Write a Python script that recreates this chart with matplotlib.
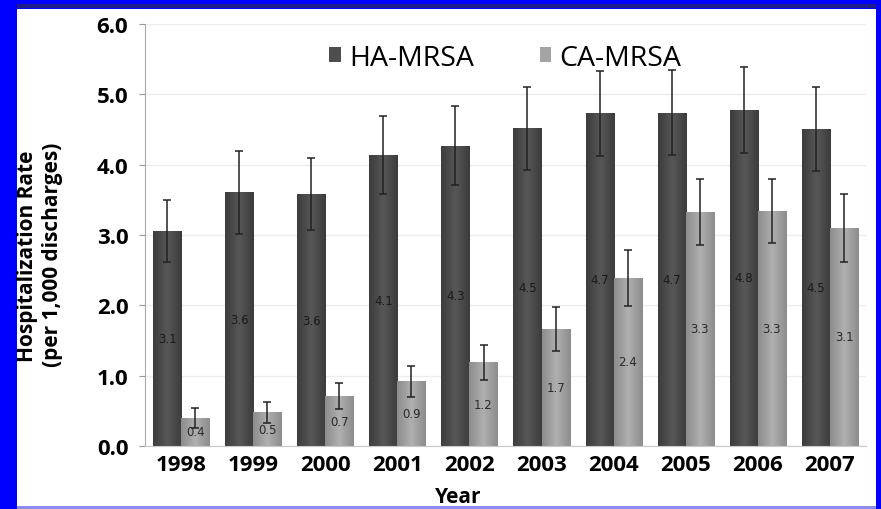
import numpy as np
import matplotlib.pyplot as plt
from matplotlib.patches import Rectangle, Patch
from matplotlib.colors import LinearSegmentedColormap

# hospitalization rates per 1,000 discharges
years = ['1998', '1999', '2000', '2001', '2002', '2003', '2004', '2005', '2006', '2007']
ha_rate = [3.06, 3.61, 3.58, 4.14, 4.27, 4.52, 4.73, 4.74, 4.78, 4.51]
ha_err = [0.44, 0.59, 0.51, 0.55, 0.56, 0.59, 0.60, 0.60, 0.61, 0.60]
ca_rate = [0.40, 0.48, 0.71, 0.92, 1.19, 1.66, 2.39, 3.33, 3.34, 3.10]
ca_err = [0.14, 0.15, 0.18, 0.22, 0.25, 0.31, 0.40, 0.47, 0.46, 0.48]
yticks = [0.0, 1.0, 2.0, 3.0, 4.0, 5.0, 6.0]

W, H = 881, 510
fig = plt.figure(figsize=(W / 100, H / 100), dpi=100)
fig.patch.set_facecolor('#0000ff')
# white page inside the blue frame
fig.add_artist(Rectangle((17 / W, 3 / H), (876 - 17) / W, (500 - 3) / H,
                         transform=fig.transFigure, facecolor='white', edgecolor='none', zorder=0))
fig.add_artist(Rectangle((17 / W, 501 / H), (876 - 17) / W, 4 / H,
                         transform=fig.transFigure, facecolor='#1c1c8a', edgecolor='none', zorder=0))
fig.add_artist(Rectangle((17 / W, 0), (876 - 17) / W, 3 / H,
                         transform=fig.transFigure, facecolor='#8c8cf0', edgecolor='none', zorder=0))

ax = fig.add_axes([145 / W, (H - 447) / H, (866 - 145) / W, (447 - 25) / H])
ax.set_facecolor('none')

x = np.arange(len(years))
bw = 0.39
ha_bars = ax.bar(x - bw / 2, ha_rate, bw, color='#4e4e4e', zorder=2)
ca_bars = ax.bar(x + bw / 2, ca_rate, bw, color='#a4a4a4', zorder=2)

# cylinder-like shading across each bar
def shade(bars, dark, light):
    cmap = LinearSegmentedColormap.from_list('s', [dark, light, dark])
    prof = np.linspace(0, 1, 64)[None, :]
    for b in bars:
        bx, by = b.get_x(), b.get_y()
        im = ax.imshow(prof, extent=[bx, bx + b.get_width(), by, by + b.get_height()],
                       cmap=cmap, aspect='auto', zorder=2.1, interpolation='bicubic')
        im.set_clip_path(b)

shade(ha_bars, '#3c3c3c', '#575757')
shade(ca_bars, '#8c8c8c', '#b0b0b0')

ax.errorbar(x - bw / 2, ha_rate, yerr=ha_err, fmt='none', ecolor='#222222',
            elinewidth=1.1, capsize=3, capthick=1.1, zorder=3)
ax.errorbar(x + bw / 2, ca_rate, yerr=ca_err, fmt='none', ecolor='#222222',
            elinewidth=1.1, capsize=3, capthick=1.1, zorder=3)

# value labels in the middle of each bar
for xi, v in zip(x, ha_rate):
    ax.text(xi - bw / 2, v / 2, f'{v:.1f}', ha='center', va='center',
            fontsize=8.5, color='#1a1a1a', zorder=4)
for xi, v in zip(x, ca_rate):
    ax.text(xi + bw / 2, v / 2, f'{v:.1f}', ha='center', va='center',
            fontsize=8.5, color='#2a2a2a', zorder=4)

ax.set_xlim(-0.5, len(years) - 0.5)
ax.set_ylim(0, 6.0)
ax.set_yticks(yticks)
ax.set_yticklabels([f'{t:.1f}' for t in yticks], fontsize=16, fontweight='bold',
                   family='Open Sans')
ax.set_xticks(x)
ax.set_xticklabels(years, fontsize=16, fontweight='bold', family='Open Sans')
ax.tick_params(axis='x', length=0, pad=6)
ax.tick_params(axis='y', length=4, color='#999999', pad=8)
ax.yaxis.grid(True, color='#ececec', linewidth=1, zorder=0)
ax.set_axisbelow(True)
for s in ['top', 'right']:
    ax.spines[s].set_visible(False)
ax.spines['left'].set_color('#aaaaaa')
ax.spines['bottom'].set_color('#c8c8c8')

fig.text(28 / W, 1 - 256 / H, 'Hospitalization Rate', rotation=90, ha='center', va='center',
         fontsize=15, fontweight='bold', family='Open Sans')
fig.text(53 / W, 1 - 255 / H, '(per 1,000 discharges)', rotation=90, ha='center', va='center',
         fontsize=15, fontweight='bold', family='Open Sans')
fig.text(458 / W, 1 - 498 / H, 'Year', ha='center', va='center',
         fontsize=15, fontweight='bold', family='Open Sans')

handles = [Patch(facecolor='#4e4e4e', label='HA-MRSA'), Patch(facecolor='#a4a4a4', label='CA-MRSA')]
ax.legend(handles=handles, loc='center', bbox_to_anchor=(0.5, 0.92), ncol=2, frameon=False,
          handlelength=0.4, handleheight=0.4, handletextpad=0.3, columnspacing=2.3,
          prop={'family': 'Open Sans', 'size': 20.5})

fig.savefig('out.png', dpi=100, facecolor=fig.get_facecolor())
